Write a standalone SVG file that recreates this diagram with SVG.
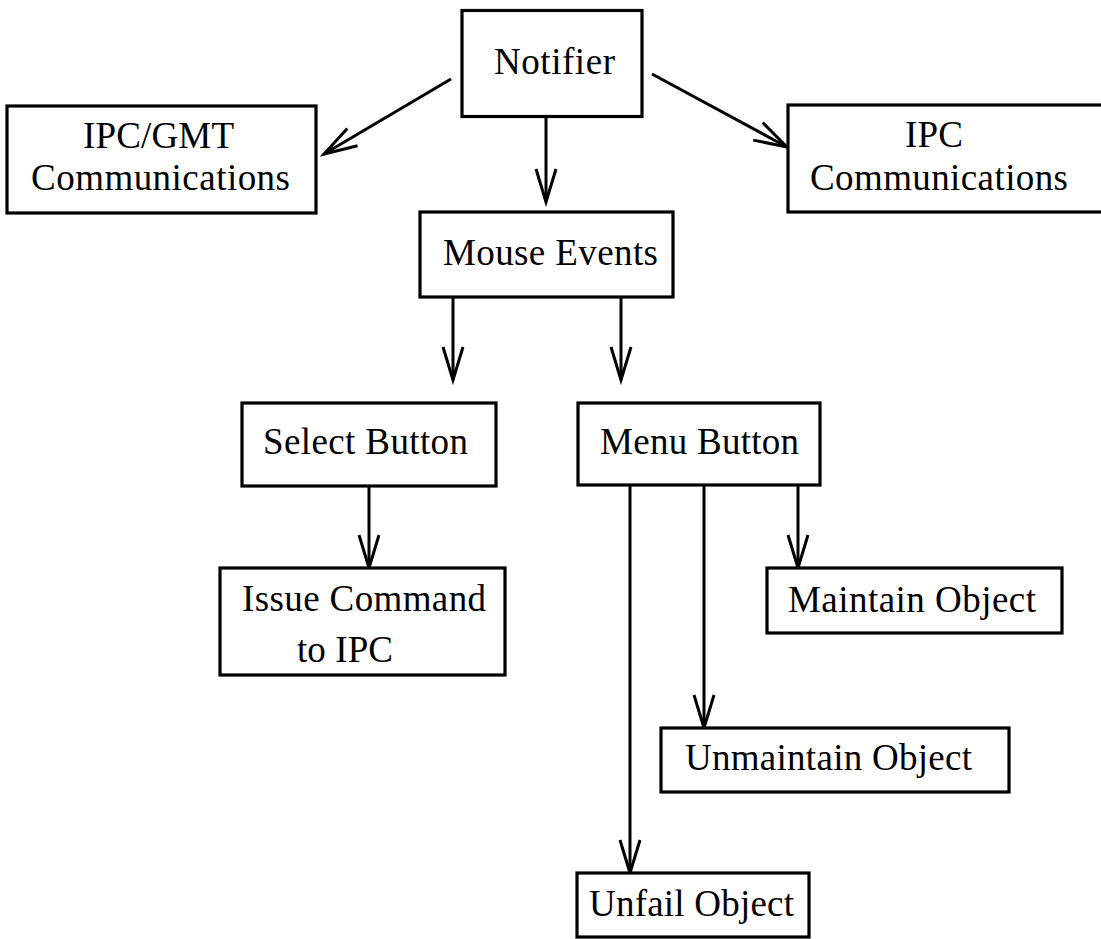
<svg xmlns="http://www.w3.org/2000/svg" width="1101" height="939" viewBox="0 0 1101 939">
<style>
.box{fill:#fff;stroke:#000;stroke-width:3.2}
.lbl{font-family:"Liberation Serif","Times New Roman",serif;font-size:37px;fill:#000}
.con{stroke:#000;stroke-width:3;fill:none}
</style>
<defs>
<marker id="arr" markerUnits="userSpaceOnUse" viewBox="-40 -15 45 30" refX="0" refY="0" markerWidth="45" markerHeight="30" orient="auto">
<path d="M-33,-10 L0,0 L-33,10" fill="none" stroke="#000" stroke-width="3"/>
</marker>
</defs>
<rect width="1101" height="939" fill="#fff"/>
<g id="connectors">
<line class="con" x1="451" y1="79" x2="324" y2="154" marker-end="url(#arr)"/>
<line class="con" x1="546" y1="117" x2="546" y2="202" marker-end="url(#arr)"/>
<line class="con" x1="652" y1="74" x2="787" y2="147" marker-end="url(#arr)"/>
<line class="con" x1="453" y1="297" x2="453" y2="380" marker-end="url(#arr)"/>
<line class="con" x1="621" y1="297" x2="621" y2="380" marker-end="url(#arr)"/>
<line class="con" x1="369" y1="486" x2="369" y2="568" marker-end="url(#arr)"/>
<line class="con" x1="630" y1="485" x2="630" y2="873" marker-end="url(#arr)"/>
<line class="con" x1="704" y1="485" x2="704" y2="728" marker-end="url(#arr)"/>
<line class="con" x1="798" y1="485" x2="798" y2="568" marker-end="url(#arr)"/>
</g>
<g id="notifier"><rect class="box" x="462" y="10.5" width="180" height="106"/><text class="lbl" x="494" y="74" textLength="121">Notifier</text></g>
<g id="ipc-gmt"><rect class="box" x="7" y="106" width="309" height="107"/><text class="lbl" x="83" y="148" textLength="151">IPC/GMT</text><text class="lbl" x="31" y="190" textLength="259">Communications</text></g>
<g id="ipc"><rect class="box" x="788" y="105" width="316" height="107"/><text class="lbl" x="905" y="147" textLength="58">IPC</text><text class="lbl" x="810" y="190" textLength="258">Communications</text></g>
<g id="mouse-events"><rect class="box" x="420" y="212" width="253" height="85"/><text class="lbl" x="443" y="265" textLength="215">Mouse Events</text></g>
<g id="select-button"><rect class="box" x="242" y="403" width="254" height="83"/><text class="lbl" x="263" y="454" textLength="205">Select Button</text></g>
<g id="menu-button"><rect class="box" x="578" y="403" width="242" height="82"/><text class="lbl" x="600" y="454" textLength="199">Menu Button</text></g>
<g id="issue-command"><rect class="box" x="220" y="568" width="285" height="107"/><text class="lbl" x="242" y="611" textLength="244">Issue Command</text><text class="lbl" x="297" y="662" textLength="96">to IPC</text></g>
<g id="maintain-object"><rect class="box" x="767" y="568" width="295" height="65"/><text class="lbl" x="788" y="612" textLength="248">Maintain Object</text></g>
<g id="unmaintain-object"><rect class="box" x="661" y="728" width="348" height="64"/><text class="lbl" x="685" y="770" textLength="287">Unmaintain Object</text></g>
<g id="unfail-object"><rect class="box" x="577" y="873" width="232" height="64"/><text class="lbl" x="589" y="916" textLength="205">Unfail Object</text></g>
</svg>
